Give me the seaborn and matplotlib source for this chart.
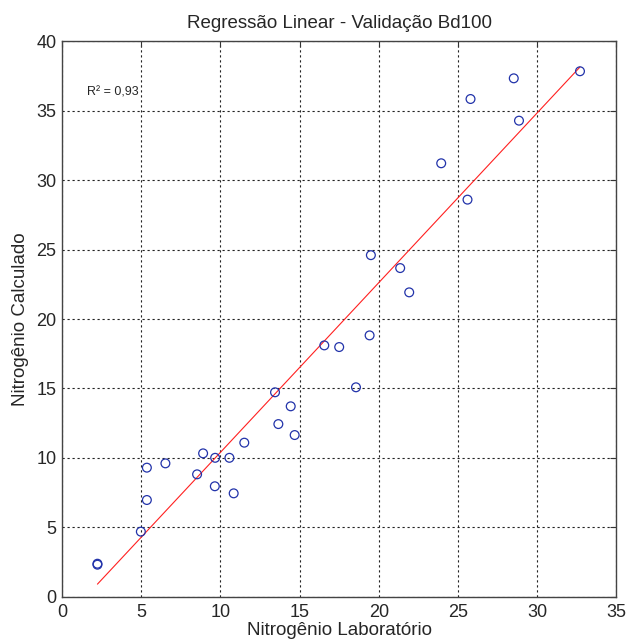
import numpy as np
import pandas as pd
import matplotlib
matplotlib.use("Agg")
import matplotlib.pyplot as plt
import seaborn as sns

lab = [2.24, 2.24, 4.98, 5.36, 5.36, 6.53, 8.53, 8.91, 9.67, 9.65, 10.57, 10.84, 11.51,
       13.45, 13.66, 14.44, 14.69, 18.56, 19.50, 21.35, 21.92, 19.42, 16.56, 17.50,
       32.70, 28.52, 25.79, 28.85, 23.94, 25.60]
calc = [2.37, 2.30, 4.68, 6.96, 9.29, 9.60, 8.81, 10.32, 10.00, 7.95, 10.00, 7.44, 11.09,
        14.72, 12.43, 13.71, 11.64, 15.08, 24.60, 23.67, 21.92, 18.82, 18.10, 17.98,
        37.85, 37.34, 35.85, 34.29, 31.22, 28.60]
r2_label = "R² = 0,93"
title = "Regressão Linear - Validação Bd100"
xlabel = "Nitrogênio Laboratório"
ylabel = "Nitrogênio Calculado"
xticks = [0, 5, 10, 15, 20, 25, 30, 35]
yticks = [0, 5, 10, 15, 20, 25, 30, 35, 40]

df = pd.DataFrame({"lab": lab, "calc": calc})
slope, intercept = np.polyfit(df["lab"], df["calc"], 1)
line_x = np.array([min(lab), max(lab)])
line_df = pd.DataFrame({"x": line_x, "y": slope * line_x + intercept})

sns.set_style("white")
plt.rcParams["font.family"] = ["Liberation Sans", "DejaVu Sans"]

fig = plt.figure(figsize=(6.29, 6.42), dpi=100)
ax = fig.add_axes([0.0985, 0.0707, 0.8815, 0.8648])

sns.lineplot(data=line_df, x="x", y="y", ax=ax, color="#ff2020", linewidth=0.8, zorder=2)
sns.scatterplot(data=df, x="lab", y="calc", ax=ax, marker="o", s=40,
                facecolors="none", edgecolor="#2233aa", linewidth=0.9, zorder=3)

ax.set_xlim(0, 35)
ax.set_ylim(0, 40)
ax.set_xticks(xticks)
ax.set_yticks(yticks)
ax.grid(True, color="#222222", linestyle=(0, (2, 2.5)), linewidth=0.8)
ax.tick_params(direction="in", length=4, top=True, right=True, labelsize=13,
               color="#333333")
ax.tick_params(axis="x", pad=5)
ax.tick_params(axis="y", pad=4)
for s in ax.spines.values():
    s.set_color("#444444")
    s.set_linewidth(1.0)

ax.set_xlabel(xlabel, fontsize=13.5, labelpad=1)
ax.set_ylabel(ylabel, fontsize=13.5, labelpad=5)
ax.set_title(title, fontsize=13.5, pad=10)
ax.text(1.6, 36.3, r2_label, fontsize=9, va="center", ha="left")

fig.savefig("out.png", dpi=100)
